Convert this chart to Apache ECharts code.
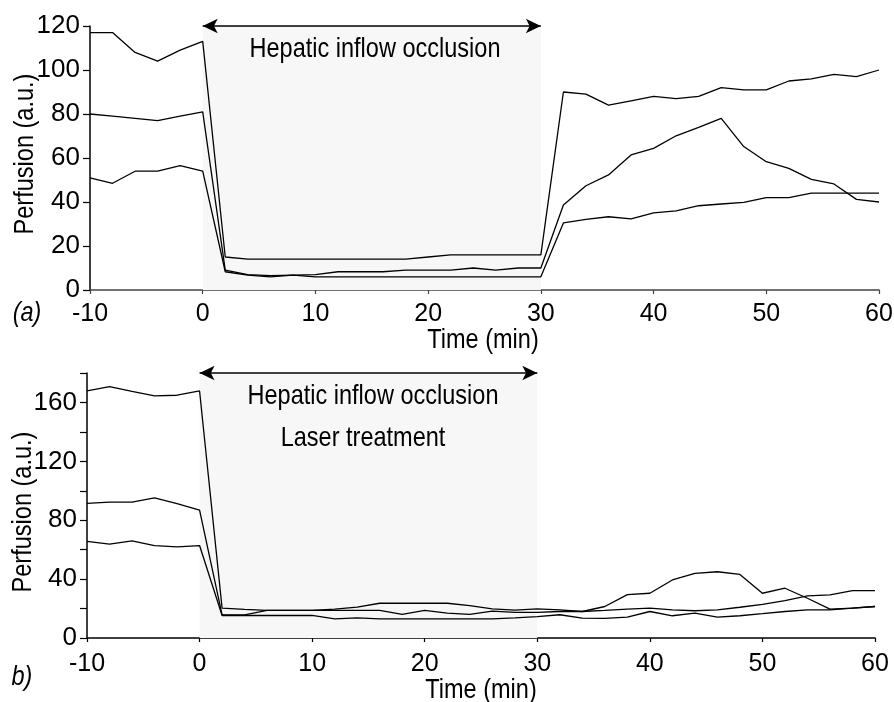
<!DOCTYPE html>
<html><head><meta charset="utf-8">
<script src="https://cdn.jsdelivr.net/npm/echarts@6/dist/echarts.min.js"></script>
<style>html,body{margin:0;padding:0;background:#fff}#c{width:894px;height:702px}</style>
</head><body><div id="c"></div>
<script>
// time points (min)
const time = [-10,-8,-6,-4,-2,0,2,4,6,8,10,12,14,16,18,20,22,24,26,28,30,32,34,36,38,40,42,44,46,48,50,52,54,56,58,60];

// (a) perfusion series
const aTop = [117,117,108,104,109,113, 15,14,14,14,14,14,14,14,14,15,16,16,16,16,16, 90,89,84,86,88,87,88,92,91,91,95,96,98,97,100];
const aMid = [80,79,78,77,79,81, 9,7,6.5,6.8,7,8.3,8.3,8.3,9,9,9,10,9,10,10, 38.6,47.4,52.3,61.4,64.4,70.1,73.9,78,65.2,58.3,55.3,50.3,48.2,41.2,40];
const aLow = [51,48.5,54,54,56.5,54, 8.3,6.8,6,6.8,6,6,6,6,6,6,6,6,6,6,6, 30.5,32.1,33.3,32.3,35.1,36,38.3,39.1,39.8,42,42,44,44,44,44];

// (b) perfusion series
const bTop = [167.8,170.7,167.5,164.4,164.9,167.8, 20.3,19.4,18.7,18.7,18.7,19.6,21,23.6,23.6,23.6,23.6,22,19.8,18.9,19.8, 19.1,18,21.4,29.5,30.4,39.4,43.9,45,43.2,30.4,33.8,27,19.6,20.3,21.4];
const bMid = [91.4,92.3,92.3,95.2,91.2,86.9, 15.7,15.7,18.7,18.7,18.7,18.7,18.7,18.7,16,18.7,16.9,16,18.3,17.4,17.4, 18,18,18.7,19.6,20.3,19.1,18.5,19.1,20.9,22.9,25.4,28.6,29.3,32.2,32.2];
const bLow = [65.7,63.7,65.9,62.8,61.9,62.8, 15.3,15.3,15.3,15.3,15.3,13,13.7,13,13,13,13,13,13,13.7,14.5, 15.8,13.5,13.3,14.2,18,15.1,16.9,14.2,15.1,16.5,18,19.1,19.1,20.3,21.4];

// occlusion window, axes and texts
const occlusion = [0, 30];
const xTicks = {min: -10, max: 60, interval: 10};
const aYAxis = {min: 0, max: 120, interval: 20};
const bYAxis = {min: 0, max: 180, interval: 20};
const occlusionText = 'Hepatic inflow occlusion';
const laserText = 'Laser treatment';
const xName = 'Time (min)';
const yName = 'Perfusion (a.u.)';
const panelA = '(a)';
const panelB = 'b)';

const FONT = '"Liberation Sans", Arial, sans-serif';
const NARROW = 0.84;

const chart = echarts.init(document.getElementById('c'), null, {renderer: 'canvas'});

function xAxis(gi, axisColor, margin) {
  return {
    gridIndex: gi, type: 'value', min: xTicks.min, max: xTicks.max, interval: xTicks.interval,
    axisLine: {show: true, onZero: false, lineStyle: {color: axisColor, width: 1.5}},
    axisTick: {show: true, length: 4, lineStyle: {color: axisColor, width: 1.2}},
    axisLabel: {fontSize: 25, color: '#000', margin: margin, fontFamily: FONT},
    splitLine: {show: false}
  };
}
function yAxis(gi, cfg, formatter) {
  return {
    gridIndex: gi, type: 'value', min: cfg.min, max: cfg.max, interval: cfg.interval,
    axisLine: {show: true, onZero: false, lineStyle: {color: '#000', width: 1.5}},
    axisTick: {show: true, length: 7, lineStyle: {color: '#000', width: 1.2}},
    axisLabel: {fontSize: 26, color: '#000', margin: 10, fontFamily: FONT, formatter: formatter},
    splitLine: {show: false}
  };
}
function lineSeries(gi, vals) {
  return {
    type: 'line', xAxisIndex: gi, yAxisIndex: gi, z: 3,
    data: time.map((t, i) => [t, vals[i]]),
    symbol: 'none', lineStyle: {color: '#000', width: 1.3}, silent: true
  };
}
function bgSeries(gi, ymax) {
  return {
    type: 'line', xAxisIndex: gi, yAxisIndex: gi, z: 1, data: [], silent: true,
    markArea: {silent: true, itemStyle: {color: '#f7f7f7'},
      data: [[{coord: [occlusion[0], 0]}, {coord: [occlusion[1], ymax]}]]},
    markLine: {silent: true, symbol: ['arrow', 'arrow'], symbolSize: [11, 15],
      lineStyle: {color: '#000', width: 1.5, type: 'solid'}, label: {show: false},
      data: [[{coord: [occlusion[0], ymax]}, {coord: [occlusion[1], ymax]}]]}
  };
}
function txt(text, x, y, opts) {
  opts = opts || {};
  return {
    type: 'text', x: x, y: y, z: 10, rotation: opts.rotation || 0, scaleX: NARROW, silent: true,
    style: {text: text, font: (opts.italic ? 'italic ' : '') + (opts.size || 28) + 'px ' + FONT,
      fill: '#000', align: 'center', verticalAlign: 'middle', textAlign: 'center', textVerticalAlign: 'middle'}
  };
}

chart.setOption({
  animation: false,
  backgroundColor: '#fff',
  grid: [
    {left: 90, right: 15, top: 26, height: 264, containLabel: false, outerBoundsMode: 'none'},
    {left: 87, right: 19, top: 373, height: 265, containLabel: false, outerBoundsMode: 'none'}
  ],
  xAxis: [xAxis(0, '#444', 12), xAxis(1, '#000', 14)],
  yAxis: [yAxis(0, aYAxis), yAxis(1, bYAxis, v => (v % 40 === 0 ? String(v) : ''))],
  series: [
    bgSeries(0, aYAxis.max),
    lineSeries(0, aTop), lineSeries(0, aMid), lineSeries(0, aLow),
    bgSeries(1, bYAxis.max),
    lineSeries(1, bTop), lineSeries(1, bMid), lineSeries(1, bLow)
  ],
  graphic: [
    txt(occlusionText, 375, 49),
    txt(occlusionText, 373, 396),
    txt(laserText, 363, 438),
    txt(xName, 483, 340),
    txt(xName, 481, 690),
    txt(yName, 25, 154, {rotation: Math.PI / 2}),
    txt(yName, 23, 512, {rotation: Math.PI / 2}),
    txt(panelA, 27, 313, {italic: true}),
    txt(panelB, 22, 677, {italic: true})
  ]
});
</script>
</body></html>
